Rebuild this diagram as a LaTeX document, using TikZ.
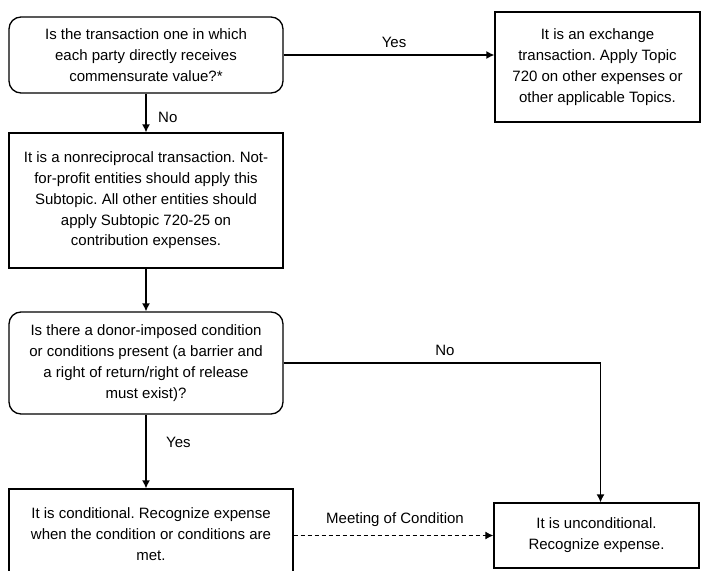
\documentclass[tikz,border=0pt]{standalone}
\usepackage{fontspec}
\setmainfont{Liberation Sans}
\usepackage{tikz}
\usetikzlibrary{arrows,arrows.meta,positioning,calc}
\frenchspacing
\tikzstyle{Qbox}=[shape=rectangle,rounded corners=12pt,draw=black,line width=1.3pt,align=center,inner sep=0pt]
\tikzstyle{Abox}=[shape=rectangle,draw=black,line width=1.3pt,align=center,inner sep=0pt]
\tikzstyle{solidedge}=[-{Latex[length=8pt,width=8pt]},line width=1.3pt]
\tikzstyle{dashededge}=[-{Latex[length=8pt,width=8pt]},line width=1.2pt,dash pattern=on 4pt off 3pt]
\tikzstyle{lbl}=[inner sep=0pt]

\begin{document}
\begin{tikzpicture}[x=1pt,y=-1pt,font=\fontsize{15}{20.8}\selectfont]
 \useasboundingbox (0,0) rectangle (701,570);

 % questions
 \node[Qbox,minimum width=274pt,minimum height=76pt] (q1) at (146,55){Is the transaction one in which\\each party directly receives\\commensurate value?*};
 \node[Qbox,minimum width=274pt,minimum height=102pt] (q2) at (146,363){Is there a donor-imposed condition\\or conditions present (a barrier and\\a right of return/right of release\\must exist)?};

 % outcomes
 \node[Abox,minimum width=205pt,minimum height=110pt] (exch) at (597.5,67){It is an exchange\\transaction. Apply Topic\\720 on other expenses or\\other applicable Topics.};
 \node[Abox,minimum width=274pt,minimum height=135pt] (nonrec) at (146,200.5){It is a nonreciprocal transaction. Not-\\for-profit entities should apply this\\Subtopic. All other entities should\\apply Subtopic 720-25 on\\contribution expenses.};
 \node[Abox,minimum width=284pt,minimum height=90pt] (cond) at (151,534){It is conditional. Recognize expense\\when the condition or conditions are\\met.};
 \node[Abox,minimum width=205pt,minimum height=65pt] (uncond) at (596.5,535.5){It is unconditional.\\Recognize expense.};

 % labels
 \node[lbl] (yes1) at (394,42){Yes};
 \node[lbl,anchor=west] (no1) at (158,117){No};
 \node[lbl] (no2) at (445,350){No};
 \node[lbl,anchor=west] (yes2) at (166,442){Yes};
 \node[lbl] (meet) at (395,520){Meeting of Condition};

\path
(q1.east) edge [solidedge] (q1.east -| exch.west)
(q1) edge [solidedge] (nonrec)
(nonrec) edge [solidedge] (q2)
(q2.south) edge [solidedge] (q2.south |- cond.north)
(cond.east |- uncond) edge [dashededge] (uncond);

\draw[solidedge] (q2.east) -| ([xshift=4pt]uncond.north);

\end{tikzpicture}
\end{document}
